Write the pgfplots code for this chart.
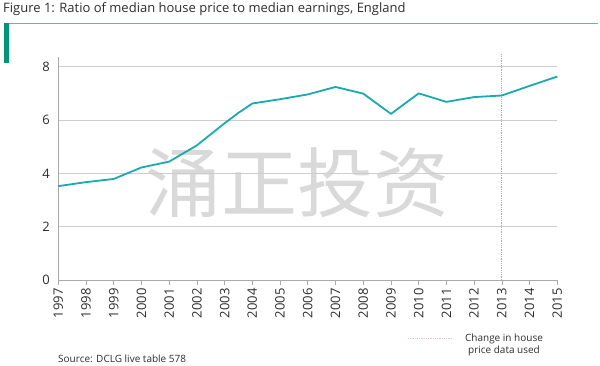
\documentclass[border=0pt]{standalone}
\usepackage{fontspec}
\setmainfont{Open Sans}
\newfontfamily\cjk{Noto Sans CJK SC}
\usepackage{pgfplots}
\pgfplotsset{compat=1.18}
\definecolor{lineteal}{RGB}{24,170,172}
\definecolor{headteal}{RGB}{0,150,120}
\definecolor{headline}{RGB}{95,185,165}
\definecolor{gridgray}{RGB}{205,205,205}
\definecolor{axgray}{RGB}{170,170,170}
\definecolor{dotpink}{RGB}{200,160,175}
\definecolor{txt}{RGB}{45,45,45}
\begin{document}
\begin{tikzpicture}[x=1pt,y=1pt]
\path[use as bounding box] (0,0) rectangle (600,366);
\node[anchor=base west, font=\fontsize{13}{14}\selectfont, text=txt, inner sep=0] at (3,353) {Figure 1: Ratio of median house price to median earnings, England};
\draw[headline, line width=1pt] (4,342) -- (598,342);
\fill[headteal] (4,303) rectangle (9,342.5);
\node[text=black!15, font=\cjk\fontsize{76}{76}\selectfont] at (297,183) {涌正投资};
\begin{axis}[
  at={(58.3pt,86pt)}, anchor=south west,
  scale only axis, width=499pt, height=223.3pt,
  xmin=1997, xmax=2015, ymin=0, ymax=8.375,
  axis x line*=bottom, axis y line*=left,
  axis line style={axgray, line width=0.6pt, -},
  xtick={1997,...,2015}, ytick={0,2,4,6,8},
  ymajorgrids, grid style={gridgray, line width=0.6pt},
  tick align=outside, major tick length=5pt,
  xtick style={axgray, line width=0.6pt},
  ytick style={draw=none},
  xticklabel style={rotate=90, anchor=east, font=\fontsize{13}{13}\selectfont, text=txt},
  yticklabel style={font=\fontsize{13}{13}\selectfont, text=txt},
  /pgf/number format/assume math mode=true,
  /pgf/number format/1000 sep={},
  clip=false,
]
\addplot[lineteal, line width=1.8pt, line join=round] coordinates {
(1997,3.52) (1998,3.67) (1999,3.79) (2000,4.22) (2001,4.44) (2002,5.05) (2003,5.88) (2003.5,6.27) (2004,6.62) (2005,6.78) (2006,6.96) (2007,7.24) (2008,6.99) (2009,6.23) (2010,7.0) (2011,6.68) (2012,6.86) (2013,6.92) (2014,7.28) (2015,7.63)
};
\addplot[dotpink, densely dotted, line width=0.8pt] coordinates {(2013,0) (2013,8.5)};
\end{axis}
\draw[dotpink!60, densely dotted, line width=0.8pt] (408,28) -- (452,28);
\node[align=center, font=\fontsize{10}{12}\selectfont, text=txt] at (504,21.5) {Change in house\\price data used};
\node[anchor=west, font=\fontsize{10}{12}\selectfont, text=txt, inner sep=0] at (58,7) {Source: DCLG live table 578};
\end{tikzpicture}
\end{document}
